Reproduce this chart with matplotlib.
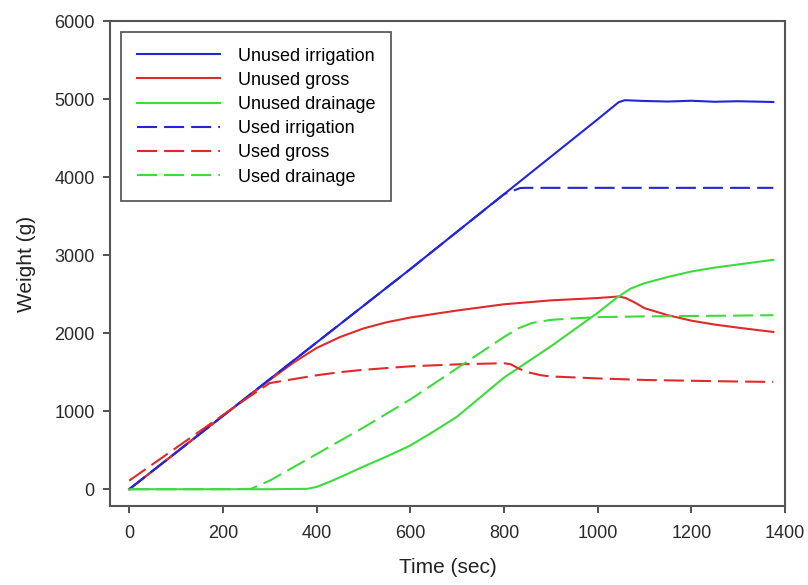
import numpy as np
import matplotlib.pyplot as plt

plt.rcParams['font.family'] = ['Liberation Sans', 'DejaVu Sans']

# (time in sec, weight in g)
irr_unused_t = [0, 100, 200, 300, 400, 500, 600, 700, 800, 900, 1000, 1045, 1058, 1100, 1150, 1200, 1250, 1300, 1375]
irr_unused_w = [0, 470, 940, 1410, 1880, 2350, 2820, 3300, 3780, 4260, 4740, 4960, 4985, 4975, 4968, 4978, 4965, 4972, 4962]

gross_unused_t = [0, 100, 200, 300, 350, 400, 450, 500, 550, 600, 700, 800, 900, 1000, 1045, 1060, 1080, 1100, 1150, 1200, 1250, 1300, 1375]
gross_unused_w = [0, 470, 940, 1400, 1620, 1810, 1950, 2060, 2140, 2200, 2290, 2370, 2420, 2450, 2470, 2450, 2390, 2320, 2230, 2160, 2110, 2070, 2015]

drain_unused_t = [0, 100, 200, 300, 380, 400, 430, 460, 500, 550, 600, 650, 700, 800, 900, 1000, 1040, 1070, 1100, 1150, 1200, 1250, 1300, 1375]
drain_unused_w = [0, 0, 0, 0, 5, 30, 100, 180, 290, 420, 560, 740, 930, 1430, 1830, 2260, 2450, 2570, 2640, 2720, 2790, 2840, 2880, 2940]

irr_used_t = [0, 100, 200, 300, 400, 500, 600, 700, 800, 835, 845, 900, 1000, 1100, 1200, 1300, 1375]
irr_used_w = [0, 470, 940, 1410, 1880, 2350, 2820, 3300, 3780, 3860, 3862, 3862, 3862, 3862, 3862, 3862, 3862]

gross_used_t = [0, 100, 200, 250, 300, 320, 350, 400, 450, 500, 600, 700, 800, 815, 830, 850, 880, 900, 1000, 1100, 1200, 1300, 1375]
gross_used_w = [110, 530, 950, 1160, 1360, 1380, 1410, 1460, 1500, 1530, 1575, 1600, 1615, 1600, 1550, 1500, 1460, 1445, 1420, 1400, 1390, 1380, 1375]

drain_used_t = [0, 100, 200, 260, 300, 400, 500, 600, 700, 800, 830, 860, 900, 950, 1000, 1100, 1200, 1300, 1375]
drain_used_w = [0, 0, 0, 5, 110, 450, 790, 1150, 1550, 1950, 2060, 2130, 2170, 2190, 2205, 2215, 2220, 2225, 2230]

blue = '#2424d8'
red = '#e02a2a'
green = '#3ddc3d'
dash = (0, (9.6, 3.4))

fig = plt.figure(figsize=(8.08, 5.85), dpi=100)
ax = fig.add_axes([110 / 808, 1 - 506 / 585, 675 / 808, 485 / 585])

ax.plot(irr_unused_t, irr_unused_w, color=blue, lw=1.5, label='Unused irrigation')
ax.plot(gross_unused_t, gross_unused_w, color=red, lw=1.5, label='Unused gross')
ax.plot(drain_unused_t, drain_unused_w, color=green, lw=1.5, label='Unused drainage')
ax.plot(irr_used_t, irr_used_w, color=blue, lw=1.5, ls=dash, label='Used irrigation')
ax.plot(gross_used_t, gross_used_w, color=red, lw=1.5, ls=dash, label='Used gross')
ax.plot(drain_used_t, drain_used_w, color=green, lw=1.5, ls=dash, label='Used drainage')

ax.set_xlim(-41, 1400)
ax.set_ylim(-215, 6000)
ax.set_xticks([0, 200, 400, 600, 800, 1000, 1200, 1400])
ax.set_yticks([0, 1000, 2000, 3000, 4000, 5000, 6000])
ax.tick_params(axis='both', direction='out', length=5, width=1.2, labelsize=13, colors='#333333',
               labelcolor='#2a2a2a', top=False, right=False)
ax.tick_params(axis='x', pad=9)
ax.tick_params(axis='y', pad=6)
for s in ax.spines.values():
    s.set_color('#555555')
    s.set_linewidth(1.5)

ax.set_xlabel('Time (sec)', fontsize=15, color='#222222', labelpad=11)
ax.set_ylabel('Weight (g)', fontsize=15, color='#222222', labelpad=13)

leg = ax.legend(loc='upper left', bbox_to_anchor=(0.017, 0.977), fontsize=13, frameon=True,
                fancybox=False, handlelength=4.6, borderpad=0.85, labelspacing=0.4,
                handletextpad=1.0, borderaxespad=0)
leg.get_frame().set_edgecolor('#333333')
leg.get_frame().set_linewidth(1.3)

plt.savefig('out.png', dpi=100)
